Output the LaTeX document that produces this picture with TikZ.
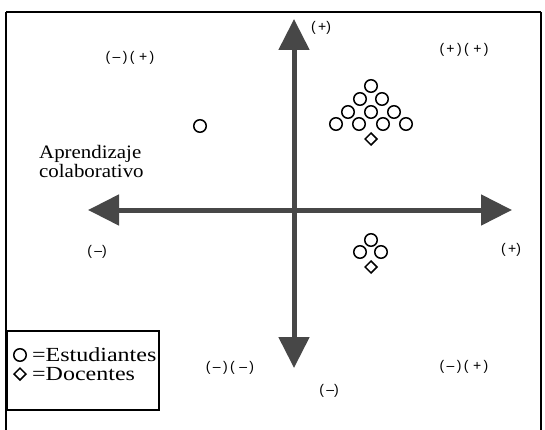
\documentclass[tikz,border=0pt]{standalone}
\usepackage{fontspec}
\setmainfont{Liberation Serif}
\newfontfamily\signfont{Liberation Sans}
\usetikzlibrary{shapes.geometric}
\usetikzlibrary{arrows.meta}
\newcommand{\wide}[2][1.1]{\scalebox{#1}[1]{#2}}
\tikzset{axis/.style={draw=black!72, line width=5pt, {Triangle[width=30pt,length=31pt]}-{Triangle[width=30pt,length=31pt]}}}
\tikzset{est/.style={circle, draw, line width=1.5pt, minimum size=12.5pt, inner sep=0pt}}
\tikzset{doc/.style={diamond, draw, line width=1.5pt, minimum size=12.5pt, inner sep=0pt}}
\tikzset{sign/.style={font=\signfont\fontsize{14}{16}\selectfont, inner sep=0pt}}
\tikzset{lbl/.style={font=\fontsize{19}{19}\selectfont, inner sep=0pt}}

\begin{document}
\begin{tikzpicture}[x=1pt, y=-1pt]
    \useasboundingbox (0,0) rectangle (545,430);
    \coordinate (F1) at (6, 430);
    \coordinate (F2) at (6, 12);
    \coordinate (F3) at (541, 12);
    \coordinate (F4) at (541, 430);
    \coordinate (W) at (88, 210);
    \coordinate (E) at (512, 210);
    \coordinate (N) at (294, 19);
    \coordinate (S) at (294, 368);

    \draw[line width=2pt] (F1) -- (F2);
    \draw[line width=2pt] (F2) -- (F3);
    \draw[line width=2pt] (F3) -- (F4);
    \draw[axis] (W) -- (E);
    \draw[axis] (N) -- (S);

    \node[sign] (pN) at (321, 28) {(\,+)};
    \node[sign] (pNW) at (130, 58) {(\,\textendash\,)\,(\,\,+\,)};
    \node[sign] (pNE) at (464, 50) {(\,+\,)\,(\,\,+\,)};
    \node[sign] (pW) at (97, 252) {(\,\textendash)};
    \node[sign] (pE) at (511, 250) {(\,+)};
    \node[sign] (pSW) at (230, 368) {(\,\textendash\,)\,(\,\,\textendash\,)};
    \node[sign] (pSE) at (464, 367) {(\,\textendash\,)\,(\,\,+\,)};
    \node[sign] (pS) at (329, 391) {(\,\textendash)};

    \node[lbl, anchor=west, align=left] (apr) at (39, 162) {\wide{Aprendizaje}\\\wide{colaborativo}};

    \node[est] (e0) at (200, 126) {};
    \node[est] (e1) at (371, 86) {};
    \node[est] (e2) at (360, 99) {};
    \node[est] (e3) at (382, 99) {};
    \node[est] (e4) at (348, 112) {};
    \node[est] (e5) at (371, 112) {};
    \node[est] (e6) at (394, 112) {};
    \node[est] (e7) at (336, 124) {};
    \node[est] (e8) at (359, 124) {};
    \node[est] (e9) at (383, 124) {};
    \node[est] (e10) at (406, 124) {};
    \node[doc] (d1) at (371, 139) {};
    \node[est] (e11) at (371, 240) {};
    \node[est] (e12) at (360, 252) {};
    \node[est] (e13) at (381, 252) {};
    \node[doc] (d2) at (371, 267) {};

    \node[draw, line width=2pt, anchor=north west, minimum width=152pt, minimum height=79pt] (leg) at (6, 330) {};
    \node[est] (le) at (20, 355) {};
    \node[doc] (ld) at (20, 374) {};
    \node[lbl, font=\fontsize{20}{20}\selectfont, anchor=west] (lt1) at (32, 355) {\wide[1.2]{=Estudiantes}};
    \node[lbl, font=\fontsize{20}{20}\selectfont, anchor=west] (lt2) at (32, 374) {\wide[1.2]{=Docentes}};
\end{tikzpicture}
\end{document}
